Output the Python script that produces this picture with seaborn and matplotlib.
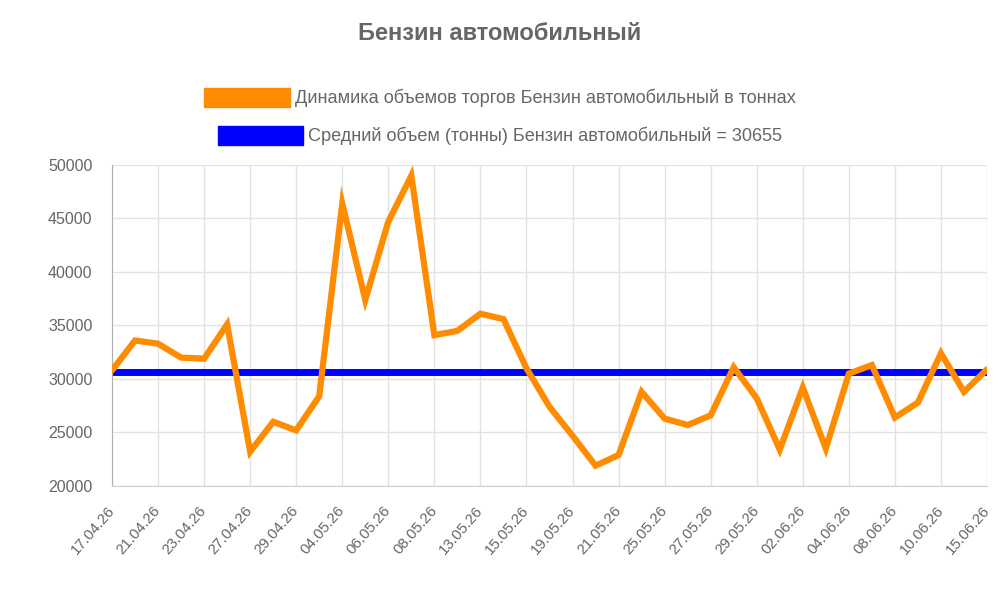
import numpy as np, pandas as pd
import matplotlib; matplotlib.use("Agg")
import matplotlib.pyplot as plt
import matplotlib.patches as mpatches
import seaborn as sns

TITLE = "Бензин автомобильный"
SERIES_LABEL = "Динамика объемов торгов Бензин автомобильный в тоннах"
MEAN_LABEL = "Средний объем (тонны) Бензин автомобильный = 30655"
MEAN = 30655

DATES = ["17.04.26", "20.04.26", "21.04.26", "22.04.26", "23.04.26", "24.04.26",
         "27.04.26", "28.04.26", "29.04.26", "30.04.26", "04.05.26", "05.05.26",
         "06.05.26", "07.05.26", "08.05.26", "12.05.26", "13.05.26", "14.05.26",
         "15.05.26", "18.05.26", "19.05.26", "20.05.26", "21.05.26", "22.05.26",
         "25.05.26", "26.05.26", "27.05.26", "28.05.26", "29.05.26", "01.06.26",
         "02.06.26", "03.06.26", "04.06.26", "05.06.26", "08.06.26", "09.06.26",
         "10.06.26", "11.06.26", "15.06.26"]
VOLUMES = [30800, 33600, 33300, 32000, 31900, 35100, 23200, 26000, 25200, 28400,
           46400, 37400, 44700, 49000, 34100, 34500, 36100, 35600, 31000, 27400,
           24700, 21900, 22900, 28800, 26300, 25700, 26600, 31100, 28200, 23400,
           29200, 23500, 30500, 31300, 26400, 27800, 32400, 28800, 30900]

ORANGE = "#FF8C00"; BLUE = "#0000FF"; GREY = "#666666"; GRID = "#e2e2e2"

sns.set_style("white")
plt.rcParams["font.family"] = ["Liberation Sans", "DejaVu Sans"]

df = pd.DataFrame({"date": DATES, "volume": VOLUMES})

fig = plt.figure(figsize=(10, 6), dpi=100)
ax = fig.add_axes([0.112, 0.19, 0.875, 0.535])

ax.axhline(MEAN, color=BLUE, lw=5, zorder=2)
sns.lineplot(data=df, x="date", y="volume", sort=False, color=ORANGE, lw=4.5,
             ax=ax, zorder=3)
ax.lines[-1].set_solid_joinstyle("miter")

ax.set_xlim(0, len(DATES) - 1)
ax.set_ylim(20000, 50000)
ax.set_yticks(range(20000, 50001, 5000))
ax.set_xticks(range(0, len(DATES), 2))
ax.set_xticklabels(DATES[::2], rotation=49, ha="right", va="center",
                   rotation_mode="anchor")
ax.set_xlabel(""); ax.set_ylabel("")
ax.grid(True, color=GRID, lw=1)
ax.set_axisbelow(True)
ax.tick_params(axis="y", length=8, width=1, color=GRID, labelsize=11.5,
               labelcolor=GREY, pad=6)
ax.tick_params(axis="x", length=12, width=1, color=GRID, labelsize=10.8,
               labelcolor=GREY, pad=4)
for s in ["top", "right"]:
    ax.spines[s].set_visible(False)
ax.spines["left"].set_color("#b0b0b0")
ax.spines["bottom"].set_color("#d0d0d0")

fig.text(0.5, 1 - 33 / 600, TITLE, ha="center", va="center", fontsize=17,
         fontweight="bold", color=GREY)

for lab, col, yc in [(SERIES_LABEL, ORANGE, 97.5), (MEAN_LABEL, BLUE, 135.5)]:
    fig.legend(handles=[mpatches.Patch(facecolor=col, edgecolor=col, label=lab)],
               loc="center", bbox_to_anchor=(0.5, 1 - yc / 600), frameon=False,
               handlelength=4.7, handleheight=1.27, handletextpad=0.3,
               fontsize=13.1, labelcolor=GREY, borderpad=0)

fig.savefig("out.png", dpi=100)
